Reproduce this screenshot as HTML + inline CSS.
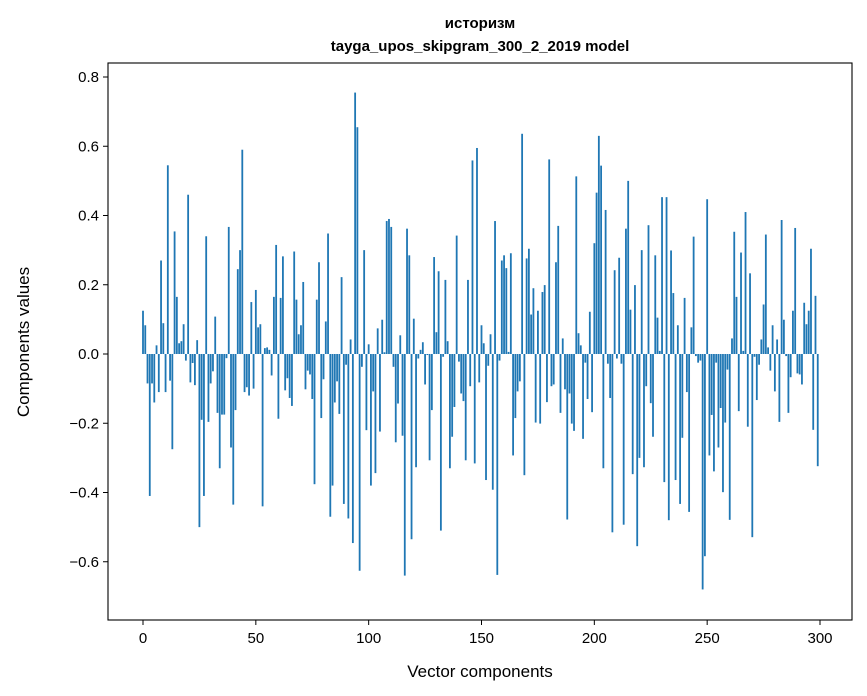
<!DOCTYPE html>
<html><head><meta charset="utf-8"><style>
html,body{margin:0;padding:0;background:#fff;}
svg{display:block;font-family:"Liberation Sans","DejaVu Sans",sans-serif;}
</style></head><body>
<svg id="chart" width="867" height="696" xmlns="http://www.w3.org/2000/svg">
<text x="480" y="28" text-anchor="middle" font-size="15" font-weight="bold">историзм</text>
<text x="480" y="51" text-anchor="middle" font-size="15" font-weight="bold">tayga_upos_skipgram_300_2_2019 model</text>
<g id="bars"></g>
<g id="axes"></g>
<text x="480" y="677" text-anchor="middle" font-size="17">Vector components</text>
<text transform="translate(29,342) rotate(-90)" text-anchor="middle" font-size="17">Components values</text>
</svg>
<script>
const values = [0.125,0.083,-0.085,-0.41,-0.085,-0.14,0.025,-0.11,0.27,0.089,
-0.11,0.545,-0.077,-0.275,0.354,0.165,0.031,0.037,0.086,-0.019,
0.46,-0.082,-0.026,-0.09,0.04,-0.50,-0.19,-0.41,0.34,-0.196,
-0.085,-0.05,0.108,-0.17,-0.33,-0.175,-0.175,-0.012,0.367,-0.27,
-0.435,-0.162,0.245,0.30,0.59,-0.11,-0.096,-0.12,0.15,-0.1,
0.185,0.077,0.086,-0.44,0.017,0.019,0.012,-0.062,0.165,0.315,
-0.187,0.162,0.282,-0.105,-0.07,-0.127,-0.15,0.296,0.157,0.057,
0.083,0.208,-0.102,-0.048,-0.059,-0.13,-0.376,0.157,0.265,-0.185,
-0.073,0.094,0.348,-0.47,-0.38,-0.14,-0.079,-0.173,0.222,-0.433,
-0.031,-0.475,0.042,-0.546,0.755,0.655,-0.626,-0.037,0.30,-0.22,
0.028,-0.38,-0.108,-0.344,0.074,-0.224,0.099,0.005,0.384,0.39,
0.367,-0.037,-0.255,-0.143,0.054,-0.236,-0.64,0.362,0.285,-0.535,
0.102,-0.327,-0.013,0.012,0.034,-0.088,-0.003,-0.307,-0.162,0.28,
0.063,0.239,-0.51,-0.008,0.214,0.037,-0.33,-0.239,-0.153,0.342,
-0.022,-0.114,-0.136,-0.307,0.214,-0.093,0.559,-0.316,0.595,-0.082,
0.083,0.031,-0.364,-0.034,0.057,-0.392,0.384,-0.638,-0.019,0.27,
0.285,0.248,0.006,0.291,-0.293,-0.185,-0.108,-0.079,0.636,-0.35,
0.276,0.304,0.114,0.19,-0.198,0.125,-0.201,0.179,0.199,-0.139,
0.562,-0.093,-0.088,0.265,0.37,-0.17,0.045,-0.102,-0.478,-0.114,
-0.201,-0.222,0.513,0.06,0.025,-0.245,-0.025,-0.13,0.122,-0.168,
0.32,0.466,0.63,0.544,-0.33,0.416,-0.028,-0.127,-0.515,0.242,
-0.013,0.278,-0.028,-0.493,0.362,0.50,0.128,-0.347,0.199,-0.555,
-0.3,0.30,-0.327,-0.093,0.372,-0.142,-0.239,0.285,0.105,0.009,
0.453,-0.37,0.453,-0.48,0.299,0.176,-0.364,0.083,-0.433,-0.242,
0.162,-0.11,-0.456,0.077,0.339,-0.006,-0.025,-0.019,-0.68,-0.584,
0.447,-0.293,-0.176,-0.339,-0.025,-0.27,-0.156,-0.399,-0.198,-0.045,
-0.479,0.045,0.353,0.165,-0.165,0.293,0.009,0.41,-0.21,0.233,
-0.529,-0.008,-0.133,-0.031,0.042,0.143,0.345,0.019,-0.048,0.083,
-0.108,0.042,-0.196,0.387,0.099,-0.006,-0.17,-0.067,0.125,0.364,
-0.056,-0.059,-0.088,0.148,0.086,0.125,0.304,-0.219,0.168,-0.324];
const xTicks = [0,50,100,150,200,250,300];
const yTicks = [-0.6,-0.4,-0.2,0.0,0.2,0.4,0.6,0.8];
const yTickLabels = ["\u22120.6","\u22120.4","\u22120.2","0.0","0.2","0.4","0.6","0.8"];

const NS="http://www.w3.org/2000/svg";
const L=108,R=852,T=63,B=620;
const xS=v=>143+(v)*(820-143)/300;
const yS=v=>354-v*346.25;
const bars=document.getElementById('bars');
const bw=0.8*(820-143)/300;
values.forEach((v,i)=>{
  const r=document.createElementNS(NS,'rect');
  
  
  const y0=yS(0),y1=yS(v);
  r.setAttribute('x',xS(i)-bw/2);
  r.setAttribute('y',Math.min(y0,y1));
  r.setAttribute('width',bw);
  r.setAttribute('height',Math.abs(y1-y0));
  r.setAttribute('fill','#1f77b4');
  bars.appendChild(r);
});
const ax=document.getElementById('axes');
const frame=document.createElementNS(NS,'rect');


frame.setAttribute('x',L);frame.setAttribute('y',T);
frame.setAttribute('width',R-L);frame.setAttribute('height',B-T);
frame.setAttribute('fill','none');frame.setAttribute('stroke','#000');frame.setAttribute('stroke-width','1.1');
ax.appendChild(frame);
xTicks.forEach(t=>{
  const x=xS(t);
  const l=document.createElementNS(NS,'line');
  
  
  l.setAttribute('x1',x);l.setAttribute('x2',x);l.setAttribute('y1',B);l.setAttribute('y2',B+5);
  l.setAttribute('stroke','#000');
  ax.appendChild(l);
  const tx=document.createElementNS(NS,'text');
  
  
  tx.setAttribute('x',x);tx.setAttribute('y',B+23);
  tx.setAttribute('text-anchor','middle');tx.setAttribute('font-size','15');
  tx.textContent=String(t);
  ax.appendChild(tx);
});
yTicks.forEach((t,i)=>{
  const y=yS(t);
  const l=document.createElementNS(NS,'line');
  
  
  l.setAttribute('x1',L-5);l.setAttribute('x2',L);l.setAttribute('y1',y);l.setAttribute('y2',y);
  l.setAttribute('stroke','#000');
  ax.appendChild(l);
  const tx=document.createElementNS(NS,'text');
  
  
  tx.setAttribute('x',L-9);tx.setAttribute('y',y+5);
  tx.setAttribute('text-anchor','end');tx.setAttribute('font-size','15');
  tx.textContent=yTickLabels[i];
  ax.appendChild(tx);
});
</script>
</body></html>
